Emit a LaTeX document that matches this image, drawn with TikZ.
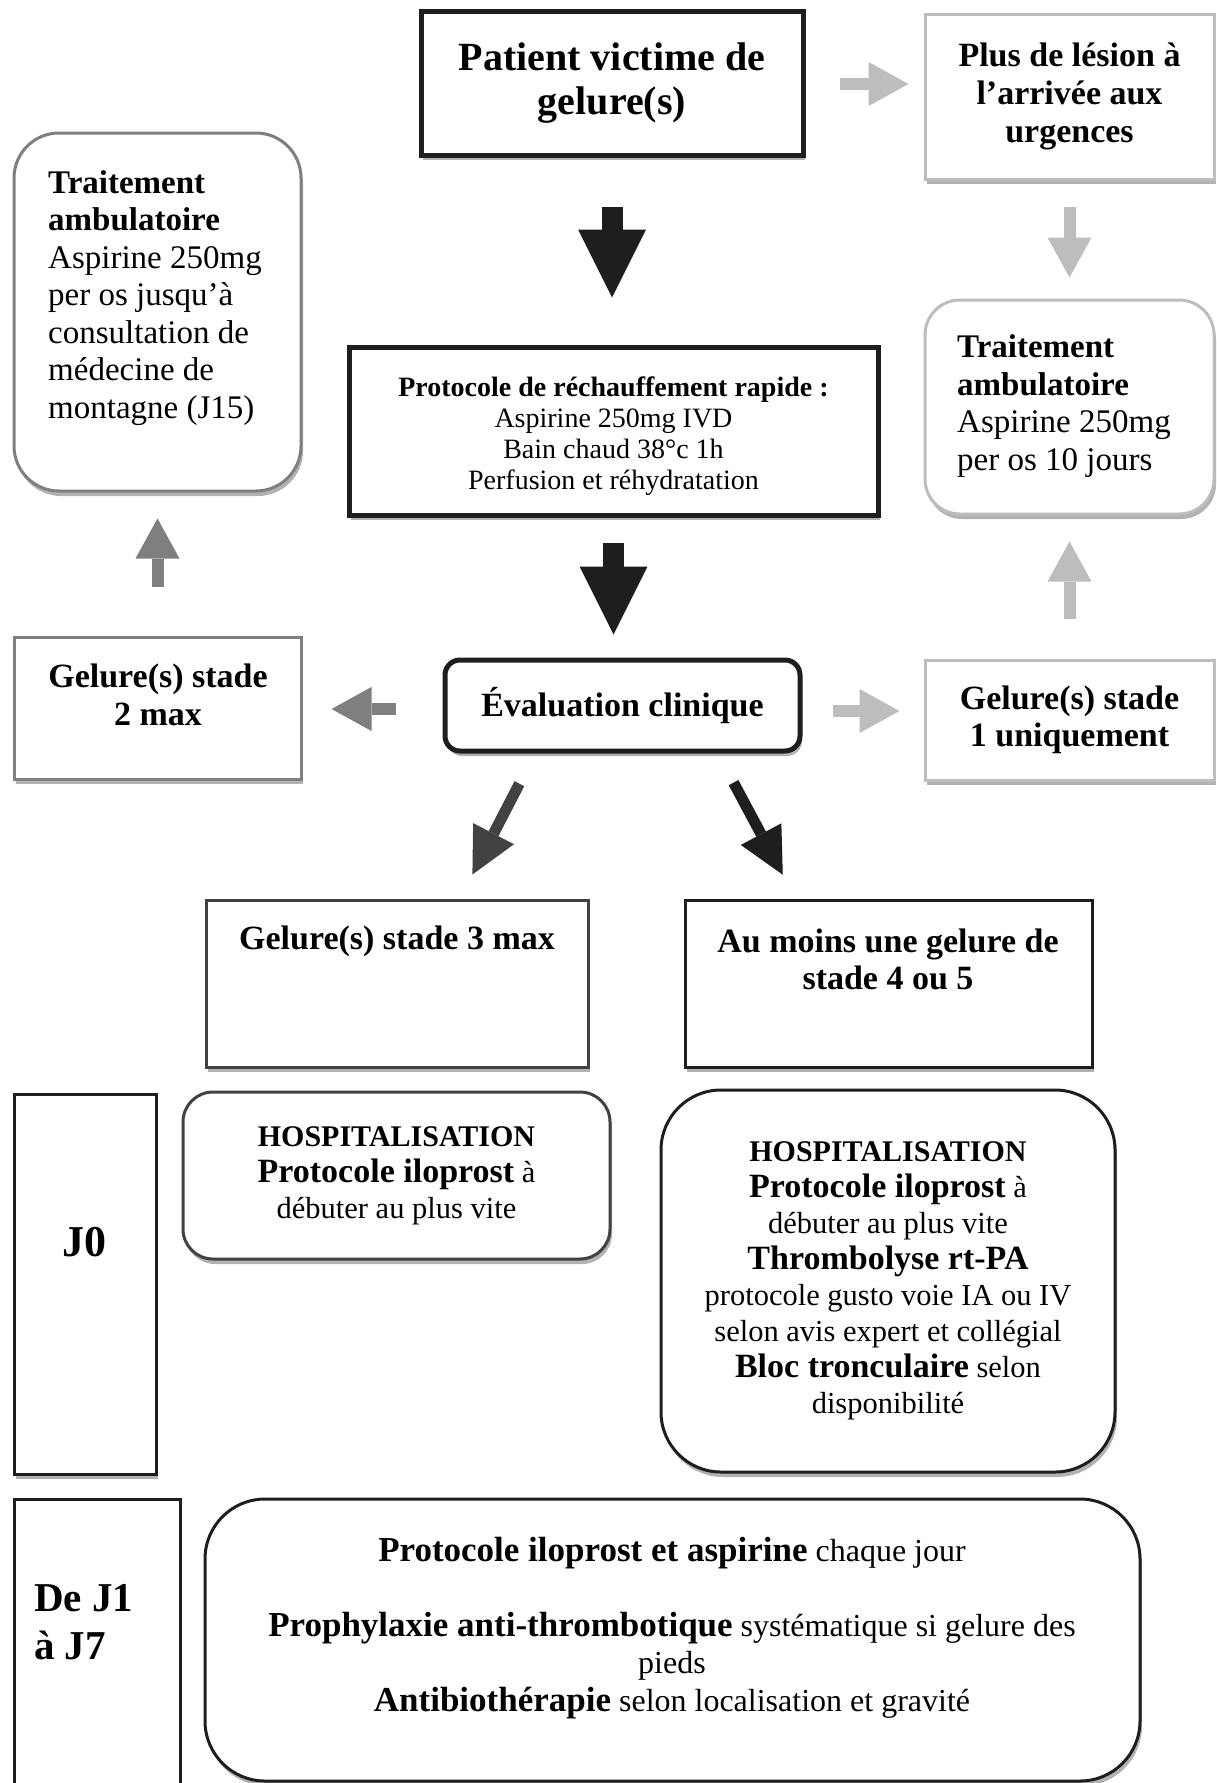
\documentclass[tikz,border=0pt]{standalone}
\usepackage{fontspec}
\setmainfont{Liberation Serif}
\usetikzlibrary{arrows.meta}
\usetikzlibrary{shadows}

\definecolor{noirbox}{HTML}{1E1E1E}
\definecolor{grisfonce}{HTML}{424242}
\definecolor{grismoyen}{HTML}{7F7F7F}
\definecolor{grisclair}{HTML}{BDBDBD}

\tikzset{
  cadre/.style={draw=#1, fill=white, line width=3pt, align=center, inner sep=0pt,
    drop shadow={shadow xshift=2pt, shadow yshift=-5pt, opacity=0.3, fill=black}},
  grosseflèche/.style={draw=#1, line width=21pt, -{Triangle[length=68pt,width=68pt,line width=0pt]}},
  petiteflèche/.style={draw=#1, line width=12pt, -{Triangle[length=40pt,width=44pt,line width=0pt]}},
  flèchebiais/.style={draw=#1, line width=11pt, -{Triangle[length=46pt,width=46pt,line width=0pt]}},
  txt/.style={align=#1, inner sep=0pt},
}

\begin{document}
\begin{tikzpicture}[x=1pt, y=-1pt]

\useasboundingbox (0,0) rectangle (1216,1783);

\node[cadre=noirbox, line width=5pt, minimum width=382pt, minimum height=144pt,
  font=\fontsize{40}{44}\selectfont\bfseries] (patient) at (612,83) {Patient victime de\\gelure(s)};
\node[cadre=grisclair, minimum width=289pt, minimum height=165pt,
  font=\fontsize{34}{38}\selectfont\bfseries] (pluslesion) at (1069.5,96.5) {Plus de lésion à\\l’arrivée aux\\urgences};
\node[cadre=grismoyen, rounded corners=45pt, minimum width=287pt, minimum height=358pt] (ambulgauche) at (157.5,312) {};
\node[cadre=noirbox, line width=5pt, minimum width=529pt, minimum height=168pt] (rechauffement) at (613.5,431) {};
\node[cadre=grisclair, rounded corners=35pt, minimum width=289pt, minimum height=214pt] (ambuldroite) at (1069.5,407) {};
\node[cadre=grismoyen, minimum width=287pt, minimum height=142pt] (stadedeux) at (157.5,708) {};
\node[cadre=noirbox, line width=5pt, rounded corners=15pt, minimum width=355pt, minimum height=91pt,
  font=\fontsize{34}{38}\selectfont\bfseries] (evaluation) at (622.5,705.5) {Évaluation clinique};
\node[cadre=grisclair, minimum width=289pt, minimum height=120pt,
  font=\fontsize{34}{37.5}\selectfont\bfseries] (stadeun) at (1069.5,720) {Gelure(s) stade\\1 uniquement};
\node[cadre=grisfonce, minimum width=382pt, minimum height=167pt] (stadetrois) at (397,983.5) {};
\node[cadre=noirbox, minimum width=407pt, minimum height=167pt] (stadequatre) at (888.5,983.5) {};
\node[cadre=noirbox, minimum width=142pt, minimum height=380pt] (jzero) at (85,1284) {};
\node[cadre=grisfonce, rounded corners=30pt, minimum width=427pt, minimum height=167pt,
  font=\fontsize{30.5}{36}\selectfont] (hospitrois) at (396.5,1175.5)
  {{\fontsize{30}{36}\selectfont\bfseries HOSPITALISATION}\\{\fontsize{34}{36}\selectfont\bfseries Protocole iloprost} à\\débuter au plus vite};
\node[cadre=noirbox, rounded corners=60pt, minimum width=454pt, minimum height=382pt,
  font=\fontsize{30.5}{36}\selectfont] (hospiquatre) at (888,1281)
  {{\fontsize{30}{36}\selectfont\bfseries HOSPITALISATION}\\{\fontsize{34}{36}\selectfont\bfseries Protocole iloprost} à\\débuter au plus vite\\{\fontsize{34}{36}\selectfont\bfseries Thrombolyse rt-PA}\\protocole gusto voie IA ou IV\\selon avis expert et collégial\\{\fontsize{34}{36}\selectfont\bfseries Bloc tronculaire} selon\\disponibilité};
\node[cadre=noirbox, minimum width=166pt, minimum height=302pt] (jun) at (97,1650) {};
\node[cadre=noirbox, rounded corners=60pt, minimum width=935pt, minimum height=282pt] (suivi) at (672.5,1640) {};

\node[txt=left, anchor=west, font=\fontsize{33}{37.5}\selectfont] (ambulgauche-txt) at (48,298)
  {{\bfseries Traitement}\\{\bfseries ambulatoire}\\Aspirine 250mg\\per os jusqu’à\\consultation de\\médecine de\\montagne (J15)};
\node[txt=center, font=\fontsize{28}{31}\selectfont] (rechauffement-txt) at (613.5,436)
  {{\bfseries Protocole de réchauffement rapide :}\\Aspirine 250mg IVD\\Bain chaud 38°c 1h\\Perfusion et réhydratation};
\node[txt=left, anchor=west, font=\fontsize{33}{37.5}\selectfont] (ambuldroite-txt) at (957,406)
  {{\bfseries Traitement}\\{\bfseries ambulatoire}\\Aspirine 250mg\\per os 10 jours};
\node[txt=center, font=\fontsize{34}{37.5}\selectfont\bfseries] (stadedeux-txt) at (158,695) {Gelure(s) stade\\2 max};
\node[txt=center, font=\fontsize{34}{37.5}\selectfont\bfseries] (stadetrois-txt) at (397,941) {Gelure(s) stade 3 max};
\node[txt=center, font=\fontsize{34}{37.5}\selectfont\bfseries] (stadequatre-txt) at (888,959.5) {Au moins une gelure de\\stade 4 ou 5};
\node[txt=center, font=\fontsize{44}{48}\selectfont\bfseries] (jzero-txt) at (84,1242) {J0};
\node[txt=left, anchor=west, font=\fontsize{41}{48}\selectfont\bfseries] (jun-txt) at (34,1622) {De J1\\à J7};
\node[txt=center, font=\fontsize{32}{37.5}\selectfont] (suivi-txt) at (672,1628)
  {{\fontsize{35}{37.5}\selectfont\bfseries Protocole iloprost et aspirine} chaque jour\\[37.5pt]{\fontsize{35}{37.5}\selectfont\bfseries Prophylaxie anti-thrombotique} systématique si gelure des\\pieds\\{\fontsize{35}{37.5}\selectfont\bfseries Antibiothérapie} selon localisation et gravité};

\draw[petiteflèche=grisclair, shorten <=34pt, shorten >=15pt] ([yshift=-1pt]patient.east) -- ([yshift=-1pt]patient.east -| pluslesion.west);
\draw[grosseflèche=noirbox, shorten <=49pt, shorten >=47pt] (patient.south) -- (patient.south |- rechauffement.north);
\draw[petiteflèche=grisclair, shorten <=26pt, shorten >=21pt] (pluslesion.south) -- (ambuldroite.north);
\draw[grosseflèche=noirbox, shorten <=25pt, shorten >=23pt] (rechauffement.south) -- (rechauffement.south |- evaluation.north);
\draw[petiteflèche=grismoyen, shorten <=49pt, shorten >=26pt] (stadedeux.north) -- (ambulgauche.south);
\draw[petiteflèche=grisclair, shorten <=40pt, shorten >=26pt] (stadeun.north) -- (ambuldroite.south);
\draw[petiteflèche=grismoyen, shorten <=47pt, shorten >=29pt] ([yshift=-3.5pt]evaluation.west) -- ([yshift=-3.5pt]evaluation.west -| stadedeux.east);
\draw[petiteflèche=grisclair, shorten <=30pt, shorten >=24pt] ([yshift=-5.5pt]evaluation.east) -- ([yshift=-5.5pt]evaluation.east -| stadeun.west);
\draw[flèchebiais=grisfonce, shorten <=34pt, shorten >=27pt] ([xshift=-87.5pt]evaluation.south) -- ([xshift=63pt]stadetrois.north);
\draw[flèchebiais=noirbox, shorten <=33pt, shorten >=27pt] ([xshift=95.5pt]evaluation.south) -- ([xshift=-93pt]stadequatre.north);

\end{tikzpicture}
\end{document}
